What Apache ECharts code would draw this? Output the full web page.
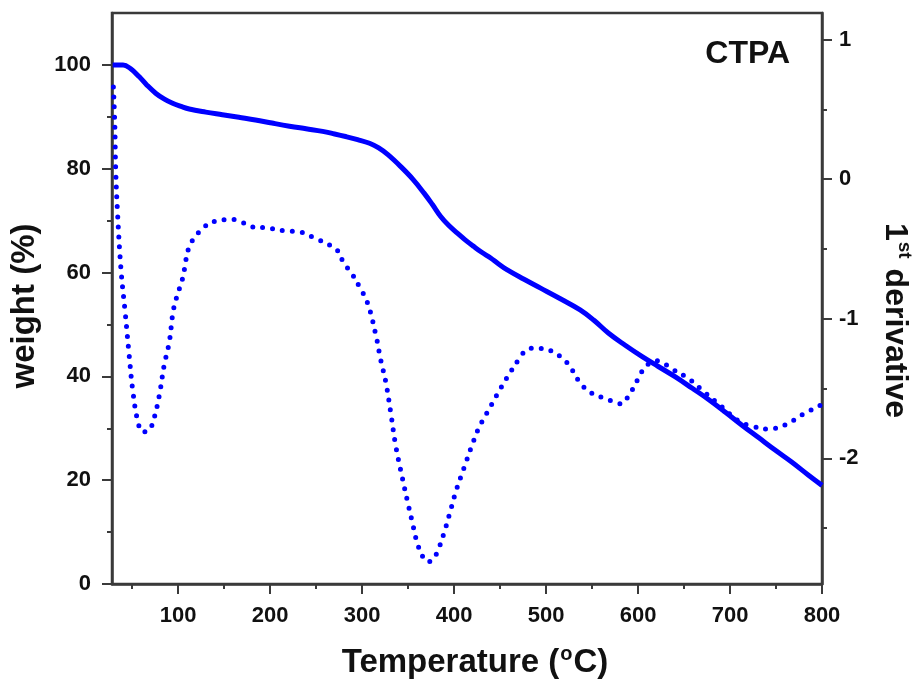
<!DOCTYPE html>
<html>
<head>
<meta charset="utf-8">
<title>CTPA TGA</title>
<script src="https://cdn.jsdelivr.net/npm/echarts@6/dist/echarts.min.js"></script>
<style>
  html, body { margin: 0; padding: 0; background: #fff; }
  #chart { width: 917px; height: 681px; }
</style>
</head>
<body>
<div id="chart"></div>
<script>
// weight loss curve (solid)
const tempWeight = [28.7, 40, 48, 57.7, 66, 75.8, 85, 93.9, 103, 112, 130, 148, 166, 184, 202, 221,
  239, 257, 270, 282, 295, 308, 318, 328, 342, 355, 367.3, 376.4, 385.4, 394, 403.5, 412, 421.5,
  430, 439.7, 448, 457.8, 476, 494, 515, 537, 552, 568, 586, 604.5, 622, 640.6, 659, 677, 695,
  713, 731, 749, 767, 785, 800];
const weight = [100, 100, 99.3, 97.7, 96.1, 94.5, 93.4, 92.6, 92.0, 91.5, 90.9, 90.4, 89.9, 89.4, 88.8, 88.2,
  87.7, 87.2, 86.7, 86.2, 85.6, 84.9, 84.0, 82.7, 80.4, 78.0, 75.3, 73.1, 70.8, 69.1, 67.6, 66.3, 65,
  63.9, 62.8, 61.7, 60.5, 58.7, 57, 55, 52.8, 50.8, 48.3, 46, 43.8, 41.9, 39.9, 37.7, 35.5, 33.1,
  30.6, 28.2, 25.8, 23.5, 21, 19];

// first derivative (dotted)
const tempDeriv = [29.5, 31, 32, 34, 37.8, 42.4, 46.8, 50.5, 55.9, 61.3, 66, 69.6, 73.9, 79.4, 84.8, 90.2,
  95, 101.5, 104.8, 112, 119.2, 126.5, 141, 152, 162, 170, 179, 197, 215, 233, 251, 264, 273, 280,
  288, 297, 306, 315, 320, 325.6, 331, 336.5, 343.7, 349, 354.6, 360, 364.4, 368, 372.6, 377, 381.8,
  389.7, 396.2, 402.7, 410.7, 418.7, 427, 437.8, 448.7, 459.5, 471.5, 479.5, 490, 500, 508.4, 517,
  524.7, 537, 546.5, 552, 563, 572, 581, 590, 595.3, 600.8, 606, 612, 619, 628, 637, 655, 673, 691,
  709, 724, 742, 760, 778, 798];
const deriv = [0.66, 0.40, 0.07, -0.24, -0.65, -0.96, -1.27, -1.51, -1.73, -1.81, -1.81, -1.79, -1.71, -1.55, -1.33, -1.17,
  -0.93, -0.78, -0.71, -0.48, -0.41, -0.35, -0.30, -0.29, -0.29, -0.31, -0.34, -0.35, -0.37, -0.38, -0.43, -0.47, -0.51, -0.60,
  -0.67, -0.77, -0.89, -1.12, -1.29, -1.45, -1.67, -1.91, -2.14, -2.30, -2.46, -2.61, -2.68, -2.73, -2.74, -2.72, -2.67,
  -2.52, -2.37, -2.22, -2.07, -1.92, -1.78, -1.65, -1.52, -1.40, -1.28, -1.22, -1.21, -1.22, -1.24, -1.28,
  -1.33, -1.46, -1.52, -1.54, -1.57, -1.59, -1.61, -1.55, -1.49, -1.42, -1.36, -1.32, -1.30, -1.32, -1.36, -1.43, -1.53, -1.63,
  -1.73, -1.77, -1.79, -1.76, -1.69, -1.62];

// ticks
const xTicks = [100, 200, 300, 400, 500, 600, 700, 800];
const xMinorTicks = [50, 150, 250, 350, 450, 550, 650, 750];
const weightTicks = [0, 20, 40, 60, 80, 100];
const weightMinorTicks = [10, 30, 50, 70, 90];
const derivTicks = [-2, -1, 0, 1];
const derivMinorTicks = [-2.5, -1.5, -0.5, 0.5];

const FONT = "'Liberation Sans', Arial, sans-serif";
const AXIS_COLOR = "#3a3a3a";
const TEXT_COLOR = "#111";
const LINE_COLOR = "#0000ff";

function zip(xs, ys) {
  return xs.map((x, i) => [x, ys[i]]);
}

function majorAxis(extra) {
  return Object.assign({
    type: "value",
    axisLine: { show: true, lineStyle: { color: AXIS_COLOR, width: 2.5 } },
    splitLine: { show: false },
    nameMoveOverlap: false,
  }, extra);
}

function minorAxis(extra, values) {
  return Object.assign({
    type: "value",
    axisLine: { show: false },
    axisTick: { show: true, length: 5, customValues: values, lineStyle: { color: AXIS_COLOR, width: 2 } },
    axisLabel: { show: false },
    splitLine: { show: false },
  }, extra);
}

function ticks(values) {
  return { show: true, length: 10, customValues: values, lineStyle: { color: AXIS_COLOR, width: 2 } };
}

function labels(values, margin) {
  return { color: TEXT_COLOR, fontFamily: FONT, fontWeight: "bold", fontSize: 22, margin, customValues: values };
}

function nameStyle(size, padding) {
  return {
    fontFamily: FONT,
    fontWeight: "bold",
    fontSize: size,
    color: TEXT_COLOR,
    padding,
    rich: {
      a: { fontFamily: FONT, fontWeight: "bold", fontSize: size, color: TEXT_COLOR, lineHeight: 38 },
      sup: { fontFamily: FONT, fontWeight: "bold", fontSize: Math.round(size * 0.6), color: TEXT_COLOR, verticalAlign: "top", lineHeight: 38, padding: [0, 1, 15, 1] },
    },
  };
}

const chart = echarts.init(document.getElementById("chart"), null, { renderer: "canvas" });

const option = {
  animation: false,
  backgroundColor: "#fff",
  title: {
    text: "CTPA",
    right: 122,
    top: 33,
    textStyle: { fontFamily: FONT, fontWeight: "bold", fontSize: 32, color: TEXT_COLOR },
  },
  grid: {
    left: 112,
    right: 95,
    top: 13,
    bottom: 97,
    containLabel: false,
    outerBoundsMode: "none",
    show: true,
    borderColor: AXIS_COLOR,
    borderWidth: 2.5,
    backgroundColor: "transparent",
  },
  xAxis: [
    majorAxis({
      min: 28,
      max: 800,
      position: "bottom",
      axisTick: ticks(xTicks),
      axisLabel: labels(xTicks, 21),
      name: "{a|Temperature (}{sup|o}{a|C)}",
      nameLocation: "middle",
      nameGap: 60,
      nameTextStyle: nameStyle(33, [0, 0, 0, 16]),
    }),
    minorAxis({ min: 28, max: 800, position: "bottom" }, xMinorTicks),
  ],
  yAxis: [
    majorAxis({
      min: 0,
      max: 110,
      position: "left",
      axisTick: ticks(weightTicks),
      axisLabel: labels(weightTicks, 21),
      name: "{a|weight (%)}",
      nameLocation: "middle",
      nameGap: 68,
      nameTextStyle: nameStyle(33, [0, 15, 0, 0]),
    }),
    minorAxis({ min: 0, max: 110, position: "left" }, weightMinorTicks),
    majorAxis({
      min: -2.9,
      max: 1.19,
      position: "right",
      axisTick: ticks(derivTicks),
      axisLabel: labels(derivTicks, 17),
      name: "{a|1}{sup|st}{a| derivative}",
      nameLocation: "middle",
      nameGap: 54,
      nameRotate: -90,
      nameTextStyle: nameStyle(32, [0, 0, 0, 44]),
    }),
    minorAxis({ min: -2.9, max: 1.19, position: "right" }, derivMinorTicks),
  ],
  series: [
    {
      name: "weight",
      type: "line",
      xAxisIndex: 0,
      yAxisIndex: 0,
      data: zip(tempWeight, weight),
      smooth: 0.4,
      showSymbol: false,
      lineStyle: { color: LINE_COLOR, width: 5 },
      z: 3,
    },
    {
      name: "1st derivative",
      type: "line",
      xAxisIndex: 0,
      yAxisIndex: 2,
      data: zip(tempDeriv, deriv),
      smooth: 0.4,
      showSymbol: false,
      lineStyle: { color: LINE_COLOR, width: 5, type: [0, 10], cap: "round" },
      z: 2,
    },
  ],
};

chart.setOption(option);
</script>
</body>
</html>
